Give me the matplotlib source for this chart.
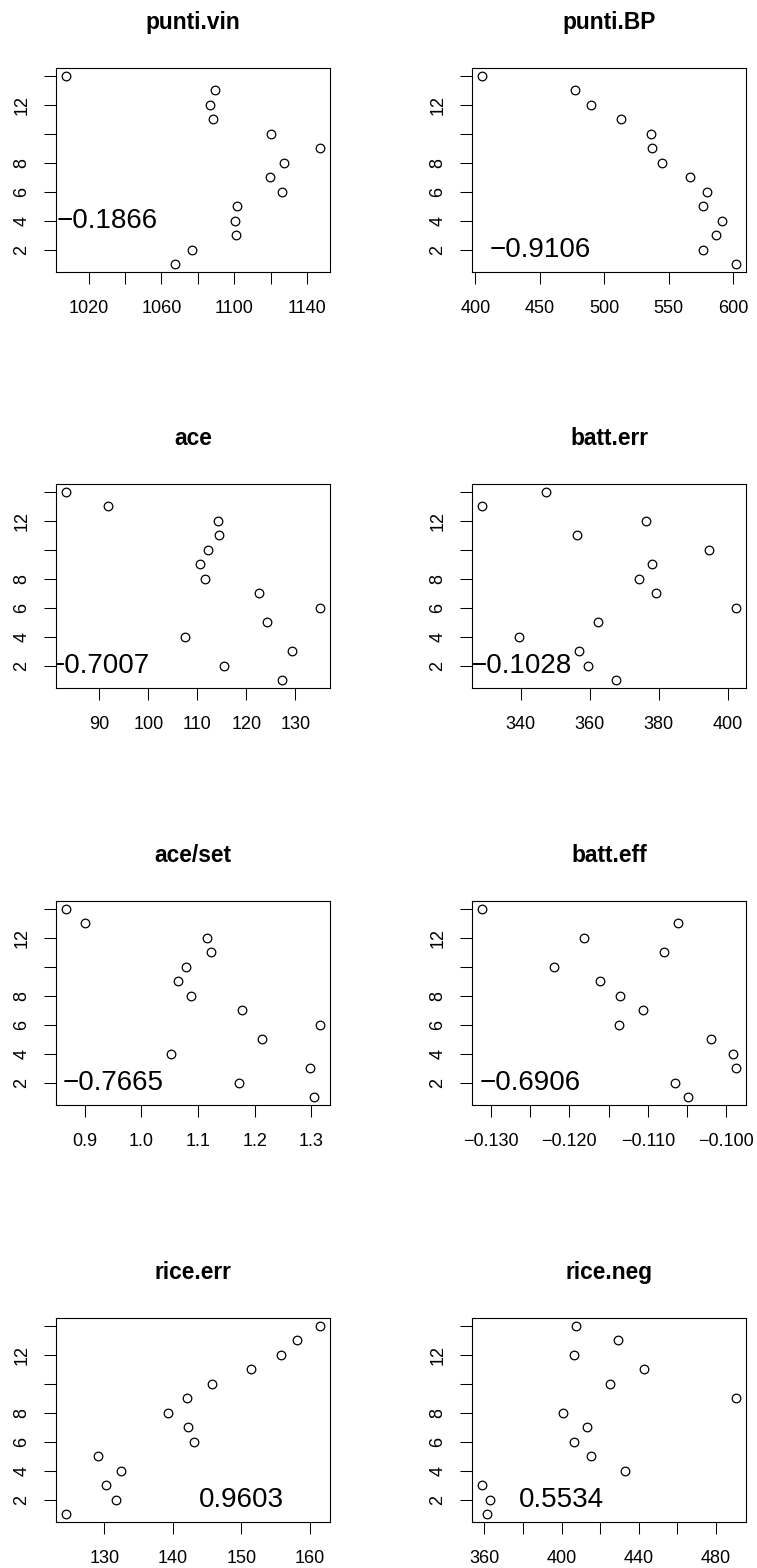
import matplotlib.pyplot as plt

plt.rcParams['font.family'] = ['Liberation Sans', 'DejaVu Sans']

# final standing of each team (1 = first)
posizione = [1, 2, 3, 4, 5, 6, 7, 8, 9, 10, 11, 12, 13, 14]

# team statistics, in standing order
punti_vin = [1067.5, 1076.9, 1100.7, 1100.6, 1101.3, 1126.2, 1119.4, 1127.3, 1147.0, 1120.2, 1088.1, 1086.8, 1089.5, 1007.7]
punti_bp = [602.1, 576.9, 586.5, 591.4, 576.4, 579.7, 566.8, 544.4, 536.9, 536.4, 513.2, 489.9, 477.4, 405.2]
ace = [127.3, 115.5, 129.4, 107.5, 124.2, 135.0, 122.6, 111.6, 110.5, 112.2, 114.4, 114.3, 91.7, 83.2]
batt_err = [367.7, 359.5, 357.0, 339.4, 362.3, 402.4, 379.1, 374.4, 378.0, 394.7, 356.4, 376.2, 328.8, 347.4]
ace_set = [1.305, 1.172, 1.297, 1.052, 1.212, 1.315, 1.178, 1.088, 1.064, 1.079, 1.122, 1.116, 0.900, 0.867]
batt_eff = [-0.1049, -0.1066, -0.0988, -0.0992, -0.1020, -0.1137, -0.1106, -0.1135, -0.1161, -0.1219, -0.1080, -0.1181, -0.1062, -0.1311]
rice_err = [124.4, 131.7, 130.3, 132.4, 129.1, 143.1, 142.2, 139.3, 142.1, 145.7, 151.5, 155.8, 158.1, 161.5]
rice_neg = [361.4, 362.8, 358.8, 433.0, 415.0, 406.5, 413.4, 400.9, 490.3, 425.0, 442.9, 406.5, 429.0, 407.2]

titoli = ['punti.vin', 'punti.BP', 'ace', 'batt.err', 'ace/set', 'batt.eff', 'rice.err', 'rice.neg']
serie = [punti_vin, punti_bp, ace, batt_err, ace_set, batt_eff, rice_err, rice_neg]
correlazioni = ['\u22120.1866', '\u22120.9106', '\u22120.7007', '\u22120.1028',
                '\u22120.7665', '\u22120.6906', '0.9603', '0.5534']

x_ticks = [
    [1020, 1040, 1060, 1080, 1100, 1120, 1140],
    [400, 450, 500, 550, 600],
    [90, 100, 110, 120, 130],
    [340, 360, 380, 400],
    [0.9, 1.0, 1.1, 1.2, 1.3],
    [-0.130, -0.125, -0.120, -0.115, -0.110, -0.105, -0.100],
    [130, 140, 150, 160],
    [360, 380, 400, 420, 440, 460, 480],
]
x_labels = [
    ['1020', '', '1060', '', '1100', '', '1140'],
    ['400', '450', '500', '550', '600'],
    ['90', '100', '110', '120', '130'],
    ['340', '360', '380', '400'],
    ['0.9', '1.0', '1.1', '1.2', '1.3'],
    ['\u22120.130', '', '\u22120.120', '', '\u22120.110', '', '\u22120.100'],
    ['130', '140', '150', '160'],
    ['360', '', '400', '', '440', '', '480'],
]
y_ticks = [2, 4, 6, 8, 10, 12, 14]
y_labels = ['2', '4', '6', '8', '', '12', '']

# where each correlation coefficient is written (data coordinates)
pos_testo = [(1030, 4), (450, 2), (90, 2), (340, 2), (0.95, 2), (-0.125, 2), (150, 2), (400, 2)]

W, H = 757, 1568
fig = plt.figure(figsize=(W / 100, H / 100), dpi=100)

col_left = [56, 472]
box_w, box_h = 274, 204
row_top = [68, 484, 901, 1318]

for i, (titolo, x) in enumerate(zip(titoli, serie)):
    r, c = divmod(i, 2)
    ax = fig.add_axes([col_left[c] / W, 1 - (row_top[r] + box_h) / H, box_w / W, box_h / H])
    ax.plot(x, posizione, 'o', mfc='none', mec='black', mew=0.9, ms=6.2)
    ax.margins(x=0.04, y=0.04)

    ax.set_xticks(x_ticks[i])
    ax.set_xticklabels(x_labels[i])
    ax.set_yticks(y_ticks)
    ax.set_yticklabels(y_labels)
    ax.minorticks_off()
    ax.tick_params(direction='out', length=8.4, width=0.75, labelsize=13, color='black',
                   top=False, right=False)
    ax.tick_params(axis='x', pad=11.5)
    ax.tick_params(axis='y', pad=10)
    for lab in ax.get_yticklabels():
        lab.set_rotation(90)
        lab.set_va('center')
    for s in ax.spines.values():
        s.set_linewidth(0.8)

    ax.set_title(titolo, fontsize=16.4, fontweight='bold', pad=28)
    tx, ty = pos_testo[i]
    ax.text(tx, ty, correlazioni[i], fontsize=20, ha='center', va='center', clip_on=True)

fig.savefig('out.png', dpi=100)
